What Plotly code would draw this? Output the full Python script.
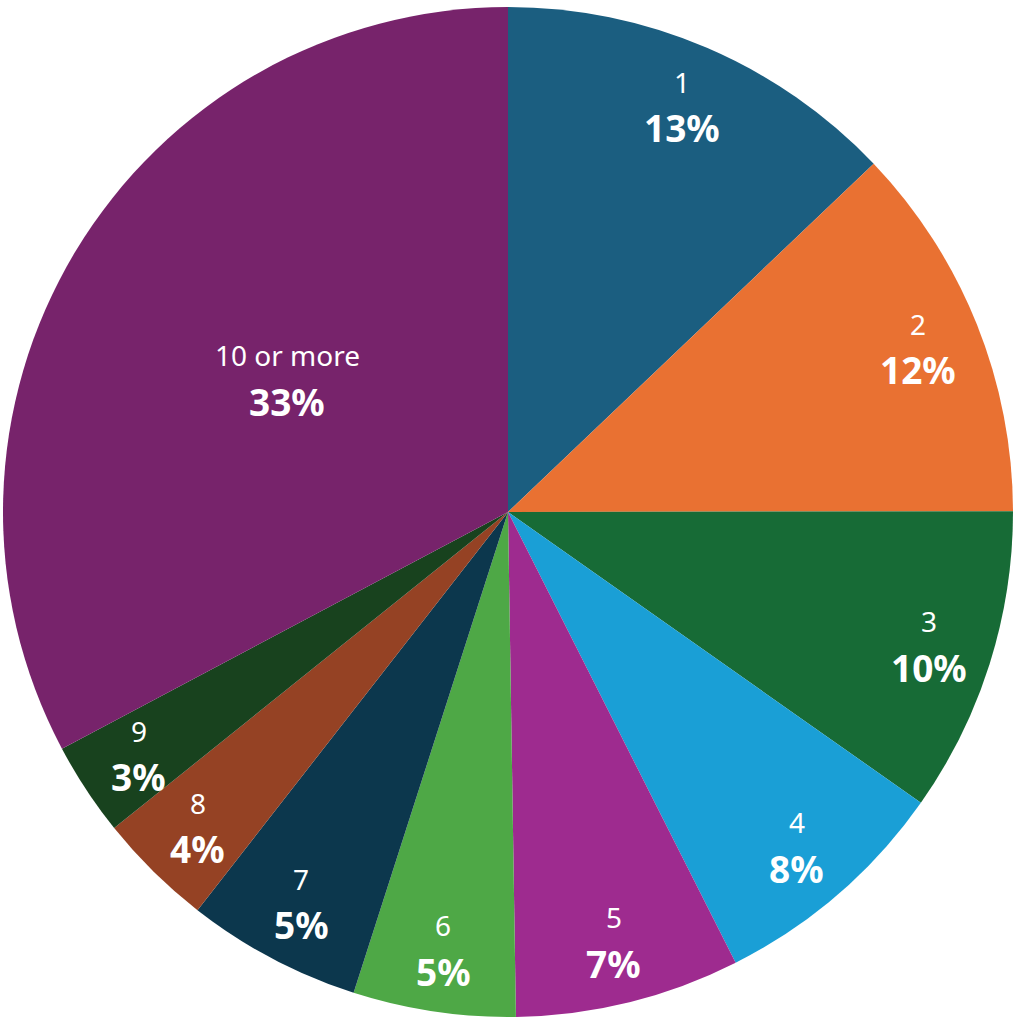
import math
import plotly.graph_objects as go

categories = ['1', '2', '3', '4', '5', '6', '7', '8', '9', '10 or more']
shares = [12.9, 12.1, 9.8, 7.8, 7.2, 5.2, 5.6, 3.7, 3.0, 32.8]
pct_labels = ['13%', '12%', '10%', '8%', '7%', '5%', '5%', '4%', '3%', '33%']

colors = ['#1b5e80', '#e97132', '#176b36', '#1a9fd6', '#9e2b8f',
          '#4ea846', '#0c374d', '#954224', '#18421e', '#77236b']

W, H, M = 1016, 1024, 3
plot_w, plot_h = W - 2 * M, H - 2 * M
R = min(plot_w, plot_h) / 2

fig = go.Figure(go.Pie(
    labels=categories,
    values=shares,
    textinfo='none',
    sort=False,
    direction='clockwise',
    rotation=0,
    marker=dict(colors=colors, line=dict(width=0)),
    hoverinfo='label+percent',
))

# labels placed along the middle of each slice (big slice closer to centre)
total = sum(shares)
cum = 0
for cat, val, pct in zip(categories, shares, pct_labels):
    mid = (cum + val / 2) / total * 2 * math.pi
    cum += val
    f = 0.51 if val / total > 0.25 else 0.875
    x = 0.5 + R * f * math.sin(mid) / plot_w
    y = 0.5 + R * f * math.cos(mid) / plot_h
    fig.add_annotation(x=x, y=y, xref='paper', yref='paper', text=cat,
                       showarrow=False, xanchor='center', yanchor='middle', yshift=24,
                       font=dict(family='Noto Sans', size=28, color='white'))
    fig.add_annotation(x=x, y=y, xref='paper', yref='paper', text='<b>%s</b>' % pct,
                       showarrow=False, xanchor='center', yanchor='middle', yshift=-22,
                       font=dict(family='Noto Sans', size=37, color='white'))

fig.update_layout(
    width=W,
    height=H,
    showlegend=False,
    margin=dict(l=M, r=M, t=M, b=M),
    paper_bgcolor='white',
)

fig.write_html("out.html", config={'displayModeBar': False},
               post_script="document.body.style.margin='0';document.body.style.overflow='hidden';")
